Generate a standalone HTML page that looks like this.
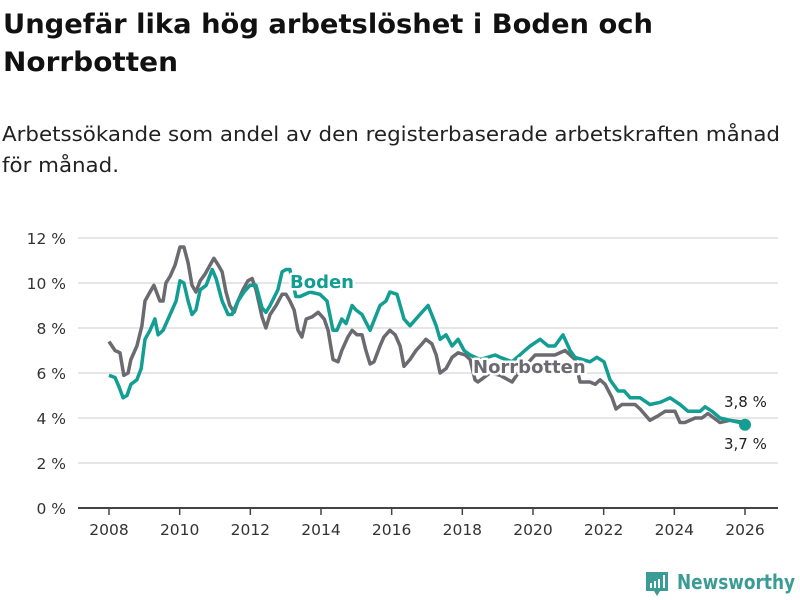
<!DOCTYPE html>
<html><head><meta charset="utf-8"><style>
body{margin:0;background:#fff;font-family:"DejaVu Sans","Liberation Sans",sans-serif;}
svg{display:block}
</style></head><body>
<svg width="800" height="600" xmlns="http://www.w3.org/2000/svg" font-family="DejaVu Sans, Liberation Sans, sans-serif">
<text x="3" y="33" font-size="27" font-weight="bold" fill="#111" textLength="650" lengthAdjust="spacingAndGlyphs">Ungefär lika hög arbetslöshet i Boden och</text>
<text x="3" y="71" font-size="27" font-weight="bold" fill="#111" textLength="175" lengthAdjust="spacingAndGlyphs">Norrbotten</text>
<text x="2" y="141" font-size="20" fill="#222" textLength="778" lengthAdjust="spacingAndGlyphs">Arbetssökande som andel av den registerbaserade arbetskraften månad</text>
<text x="2" y="172" font-size="20" fill="#222" textLength="117" lengthAdjust="spacingAndGlyphs">för månad.</text>
<g id="grid"></g><g id="series"></g><g id="labels"></g>
<g>
<path d="M646 572 h22 v19 h-8 l-3 5 l-3 -5 h-8 z" fill="#3a9c94"/>
<rect x="650" y="583" width="2" height="5" fill="#fff"/><rect x="654" y="581" width="2" height="7" fill="#fff"/><rect x="658" y="579" width="2" height="9" fill="#fff"/><rect x="663" y="575" width="2" height="13" fill="#fff"/>
<text x="677" y="589" font-size="20" font-weight="bold" fill="#3a9c94" textLength="118" lengthAdjust="spacingAndGlyphs">Newsworthy</text>
</g>
</svg>
<script>
const yTicks=[0,2,4,6,8,10,12];
const xTicks=[2008,2010,2012,2014,2016,2018,2020,2022,2024,2026];
const norrDates=[2008.00,2008.17,2008.31,2008.42,2008.54,2008.62,2008.79,2008.93,2009.02,2009.16,2009.27,2009.44,2009.53,2009.61,2009.73,2009.87,2010.01,2010.12,2010.24,2010.35,2010.46,2010.58,2010.72,2010.86,2010.97,2011.09,2011.20,2011.31,2011.42,2011.54,2011.65,2011.79,2011.93,2012.05,2012.16,2012.33,2012.44,2012.56,2012.73,2012.90,2013.01,2013.12,2013.24,2013.35,2013.46,2013.58,2013.75,2013.92,2014.09,2014.20,2014.34,2014.48,2014.59,2014.76,2014.88,2015.02,2015.16,2015.27,2015.39,2015.50,2015.67,2015.78,2015.95,2016.10,2016.24,2016.35,2016.52,2016.69,2016.86,2016.97,2017.14,2017.26,2017.37,2017.54,2017.71,2017.88,2018.08,2018.22,2018.36,2018.44,2018.78,2019.07,2019.41,2019.58,2019.77,2020.06,2020.34,2020.62,2020.91,2021.19,2021.33,2021.61,2021.76,2021.90,2022.04,2022.24,2022.35,2022.52,2022.69,2022.89,2023.03,2023.31,2023.54,2023.74,2024.02,2024.16,2024.30,2024.59,2024.78,2024.95,2025.12,2025.29,2025.57,2026.00];
const norrValues=[7.4,7.0,6.9,5.9,6.0,6.6,7.2,8.1,9.2,9.6,9.9,9.2,9.2,10.0,10.3,10.8,11.6,11.6,10.9,9.9,9.6,10.1,10.4,10.8,11.1,10.8,10.5,9.6,9.0,8.7,9.2,9.7,10.1,10.2,9.7,8.5,8.0,8.6,9.0,9.5,9.5,9.2,8.8,7.9,7.6,8.4,8.5,8.7,8.4,7.9,6.6,6.5,7.0,7.6,7.9,7.7,7.7,7.0,6.4,6.5,7.2,7.6,7.9,7.7,7.2,6.3,6.6,7.0,7.3,7.5,7.3,6.8,6.0,6.2,6.7,6.9,6.8,6.6,5.7,5.6,6.0,5.9,5.6,6.0,6.3,6.8,6.8,6.8,7.0,6.6,5.6,5.6,5.5,5.7,5.5,4.9,4.4,4.6,4.6,4.6,4.4,3.9,4.1,4.3,4.3,3.8,3.8,4.0,4.0,4.2,4.0,3.8,3.9,3.8];
const bodenDates=[2008.00,2008.17,2008.28,2008.40,2008.51,2008.62,2008.79,2008.91,2009.02,2009.16,2009.30,2009.39,2009.53,2009.73,2009.90,2010.01,2010.12,2010.24,2010.35,2010.46,2010.58,2010.75,2010.92,2011.03,2011.20,2011.37,2011.48,2011.65,2011.82,2011.99,2012.16,2012.33,2012.44,2012.56,2012.78,2012.90,2013.01,2013.12,2013.29,2013.41,2013.69,2013.97,2014.17,2014.34,2014.45,2014.59,2014.71,2014.88,2014.99,2015.16,2015.39,2015.67,2015.84,2015.95,2016.15,2016.35,2016.52,2016.80,2017.03,2017.26,2017.37,2017.54,2017.71,2017.88,2018.05,2018.22,2018.50,2018.93,2019.07,2019.41,2019.77,2019.92,2020.20,2020.43,2020.62,2020.85,2021.05,2021.19,2021.61,2021.81,2022.01,2022.18,2022.41,2022.58,2022.75,2023.03,2023.31,2023.60,2023.88,2024.16,2024.39,2024.73,2024.87,2025.07,2025.29,2025.57,2025.86,2026.00];
const bodenValues=[5.9,5.8,5.4,4.9,5.0,5.5,5.7,6.2,7.5,7.9,8.4,7.7,7.9,8.6,9.2,10.1,10.0,9.2,8.6,8.8,9.7,9.9,10.6,10.2,9.2,8.6,8.6,9.2,9.6,9.9,9.9,8.9,8.7,9.0,9.7,10.5,10.6,10.6,9.4,9.4,9.6,9.5,9.2,7.9,7.9,8.4,8.2,9.0,8.8,8.6,7.9,9.0,9.2,9.6,9.5,8.4,8.1,8.6,9.0,8.1,7.5,7.7,7.2,7.5,7.0,6.8,6.6,6.8,6.7,6.5,7.0,7.2,7.5,7.2,7.2,7.7,7.0,6.7,6.5,6.7,6.5,5.7,5.2,5.2,4.9,4.9,4.6,4.7,4.9,4.6,4.3,4.3,4.5,4.3,4.0,3.9,3.8,3.7];
const NS="http://www.w3.org/2000/svg";
const X=y=>109+(y-2008)*35.333, Y=v=>508-v*22.5;
function mk(t,a,p){const e=document.createElementNS(NS,t);for(const k in a)e.setAttribute(k,a[k]);p.appendChild(e);return e;}
const grid=document.getElementById('grid'),ser=document.getElementById('series'),lab=document.getElementById('labels');
yTicks.forEach(v=>{
 const l=mk('line',{x1:78,x2:778,y1:Y(v),y2:Y(v),stroke:v===0?'#444':'#ddd','stroke-width':v===0?2:1.5},grid);
 
 
 const t=mk('text',{x:66,y:Y(v)+6,'text-anchor':'end','font-size':15.5,fill:'#333'},grid);
 t.textContent=v+' %';
 
 
});
xTicks.forEach(yr=>{
 const l=mk('line',{x1:X(yr),x2:X(yr),y1:508,y2:515,stroke:'#444','stroke-width':1.5},grid);
 
 
 const t=mk('text',{x:X(yr),y:535,'text-anchor':'middle','font-size':15.5,fill:'#333'},grid);
 t.textContent=yr;
 
 
});
function line(d,v,c,name){
 const p=mk('path',{d:d.map((t,i)=>(i?'L':'M')+X(t).toFixed(1)+' '+Y(v[i]).toFixed(1)).join(''),fill:'none',stroke:c,'stroke-width':3.5,'stroke-linejoin':'round'},ser);
 
 
}
line(norrDates,norrValues,'#6b6a70','norrbotten-line');
line(bodenDates,bodenValues,'#129e93','boden-line');
const dot=mk('circle',{cx:X(bodenDates[bodenDates.length-1]),cy:Y(bodenValues[bodenValues.length-1]),r:6,fill:'#129e93'},ser);


function txt(x,y,s,c,fs,w,name,halo){
 const t=mk('text',{x:x,y:y,'font-size':fs,'font-weight':w,fill:c,'paint-order':'stroke',stroke:halo?'#fff':'none','stroke-width':halo?5:0,'stroke-linejoin':'round'},lab);
 t.textContent=s;
 
 
}
txt(290,288,'Boden','#129e93',18,'bold','boden-label',true);
txt(473,373,'Norrbotten','#6b6a70',18,'bold','norrbotten-label',true);
txt(724,407,'3,8 %','#222',15,'normal','norrbotten-end-value',true);
txt(724,449,'3,7 %','#222',15,'normal','boden-end-value',true);
</script>
</body></html>
